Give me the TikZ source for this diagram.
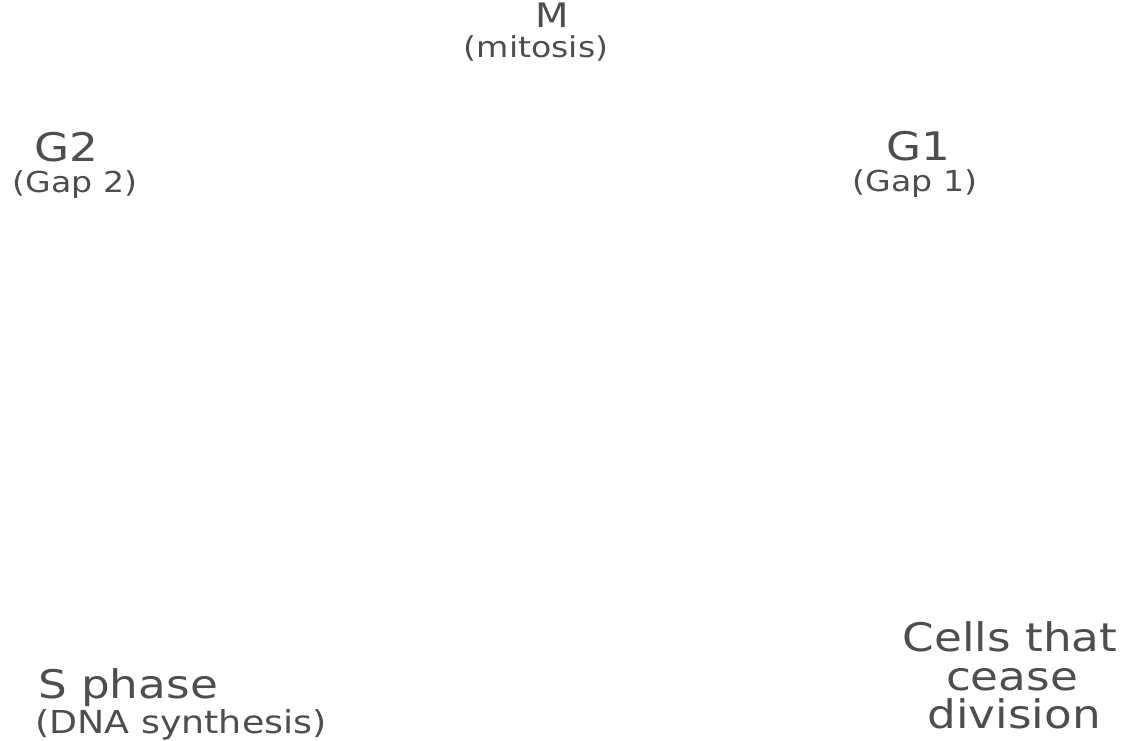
\documentclass[tikz,border=0pt]{standalone}
\usepackage{fontspec}
\newfontfamily\labfont[FakeStretch=1.15]{DejaVu Sans}
\definecolor{labgray}{RGB}{78,78,78}
\tikzset{
  x={0.025cm}, y={-0.025cm},
  phase/.style={anchor=base, inner sep=0pt, text=labgray, font=\labfont\fontsize{28}{30}\selectfont},
  mphase/.style={anchor=base, inner sep=0pt, text=labgray, font=\labfont\fontsize{24}{26}\selectfont},
  sub/.style={anchor=base, inner sep=0pt, text=labgray, font=\labfont\fontsize{20.5}{22}\selectfont},
  bigsub/.style={sub, font=\labfont\fontsize{22.5}{24}\selectfont},
}
\begin{document}
\begin{tikzpicture}
\useasboundingbox[fill=white] (0,0) rectangle (1136,741);
\clip (0,0) rectangle (1136,741);
\node[mphase] (m) at (552,28) {M};
\node[sub] (mitosis) at (536,58) {(mitosis)};
\node[phase] (g2) at (66,162) {G2};
\node[sub] (gap2) at (75,193) {(Gap 2)};
\node[phase] (g1) at (918,161) {G1};
\node[sub] (gap1) at (915,192) {(Gap 1)};
\node[phase] (s) at (128,698) {S phase};
\node[bigsub] (dna) at (181,733) {(DNA synthesis)};
\node[phase] (cells) at (1010,651) {Cells that};
\node[phase] (cease) at (1012,690) {cease};
\node[phase] (division) at (1014,728) {division};
\end{tikzpicture}
\end{document}
